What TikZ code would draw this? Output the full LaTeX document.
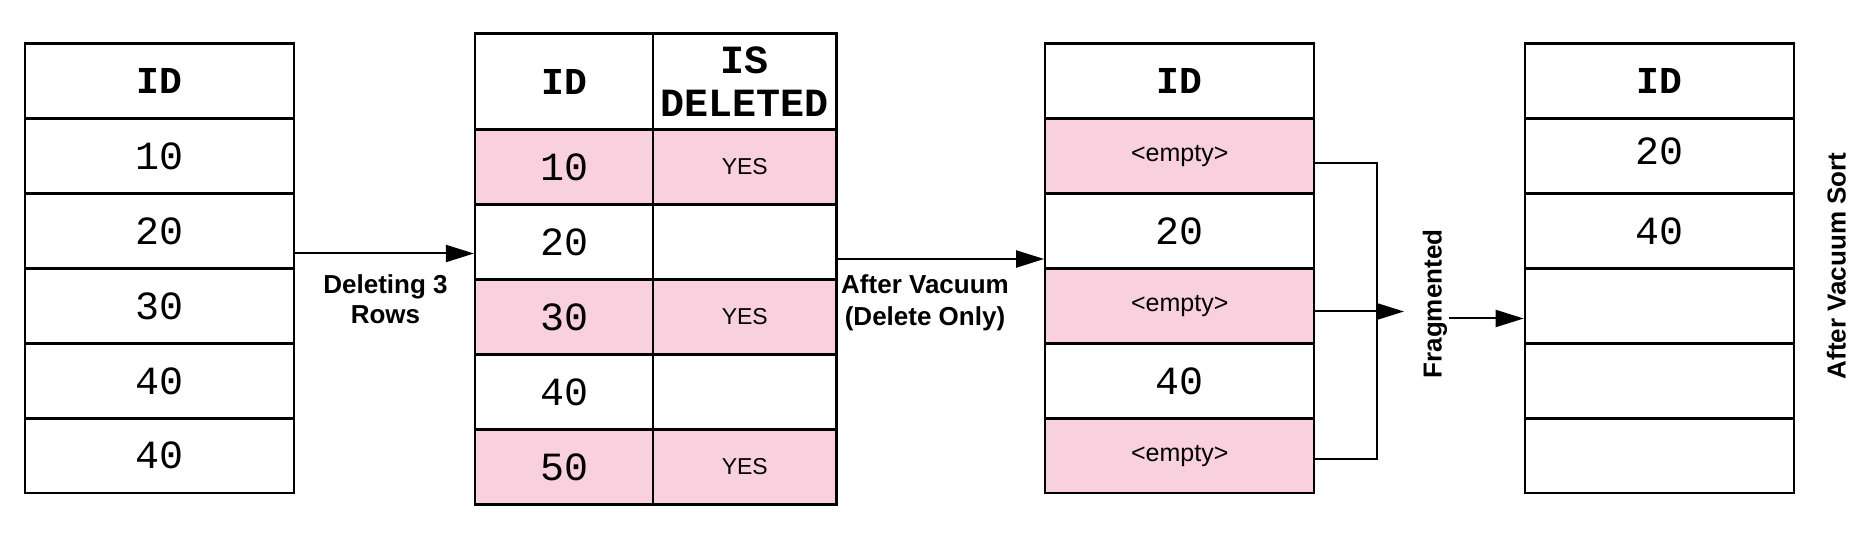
\documentclass[tikz,border=0pt]{standalone}
\usepackage{fontspec}
\setmainfont{Liberation Sans}
\setmonofont{Liberation Mono}
\usetikzlibrary{arrows.meta}
\definecolor{pinkc}{HTML}{F9D0DD}
\tikzset{
  cell/.style={draw, line width=2.2pt, inner sep=0pt, font=\ttfamily\fontsize{40}{44}\selectfont},
  hcell/.style={cell, font=\ttfamily\bfseries\fontsize{38}{43}\selectfont, align=center},
  pcell/.style={cell, fill=pinkc},
  wideA/.style={minimum width=269pt, minimum height=75pt},
  col1/.style={minimum width=178pt, minimum height=75pt},
  col2/.style={minimum width=183.5pt, minimum height=75pt},
  smalltxt/.style={font=\fontsize{23}{26}\selectfont},
  emptytxt/.style={font=\fontsize{25}{28}\selectfont},
  lbl/.style={font=\bfseries\fontsize{26}{30}\selectfont, align=center, inner sep=0pt},
  conn/.style={line width=2pt},
  arr/.style={line width=2pt, -{Triangle[length=28pt,width=17pt]}}
}
\begin{document}
\begin{tikzpicture}[x=1pt,y=-1pt]
\useasboundingbox (0,0) rectangle (1867,534);
% Table 1
\node[hcell, wideA] (t1h) at (159.5,81) {ID};
\node[cell, wideA] (t1a) at (159.5,156) {10};
\node[cell, wideA] (t1b) at (159.5,231) {20};
\node[cell, wideA] (t1c) at (159.5,306) {30};
\node[cell, wideA] (t1d) at (159.5,381) {40};
\node[cell, wideA, minimum height=74.5pt] (t1e) at (159.5,455.75) {40};
% Table 2
\node[hcell, col1, minimum height=96pt] (t2h1) at (564,81.5) {ID};
\node[hcell, col2, minimum height=96pt, font=\ttfamily\bfseries\fontsize{40}{43}\selectfont] (t2h2) at (744.75,81.5) {IS\\DELETED};
\node[pcell, col1] (t2a1) at (564,167) {10};
\node[pcell, col2, smalltxt] (t2a2) at (744.75,167) {YES};
\node[cell, col1] (t2b1) at (564,242) {20};
\node[cell, col2] (t2b2) at (744.75,242) {};
\node[pcell, col1] (t2c1) at (564,317) {30};
\node[pcell, col2, smalltxt] (t2c2) at (744.75,317) {YES};
\node[cell, col1] (t2d1) at (564,392) {40};
\node[cell, col2] (t2d2) at (744.75,392) {};
\node[pcell, col1] (t2e1) at (564,467) {50};
\node[pcell, col2, smalltxt] (t2e2) at (744.75,467) {YES};
% Table 3
\node[hcell, wideA] (t3h) at (1179.75,81) {ID};
\node[pcell, wideA, emptytxt] (t3a) at (1179.75,156) {<empty>};
\node[cell, wideA] (t3b) at (1179.75,231) {20};
\node[pcell, wideA, emptytxt] (t3c) at (1179.75,306) {<empty>};
\node[cell, wideA] (t3d) at (1179.75,381) {40};
\node[pcell, wideA, emptytxt, minimum height=74.5pt] (t3e) at (1179.75,455.75) {<empty>};
% Table 4
\node[hcell, wideA] (t4h) at (1659.25,81) {ID};
\node[cell, wideA, text height=28pt, text depth=10pt] (t4a) at (1659.25,156) {20};
\node[cell, wideA] (t4b) at (1659.25,231) {40};
\node[cell, wideA] (t4c) at (1659.25,306) {};
\node[cell, wideA] (t4d) at (1659.25,381) {};
\node[cell, wideA, minimum height=74.5pt] (t4e) at (1659.25,455.75) {};
% connector coordinates
\coordinate (a1s) at (t1b.east |- 0,253.5);
\coordinate (a1e) at (t2b1.west |- 0,253.5);
\coordinate (a2s) at (t2b2.east |- 0,259);
\coordinate (a2e) at (t3b.west |- 0,259);
\coordinate (b1) at (t3a.east |- 0,163.5);
\coordinate (b2) at (t3c.east |- 0,311.5);
\coordinate (b3) at (t3e.east |- 0,459);
\coordinate (bj1) at (1376.5,163.5);
\coordinate (bj3) at (1376.5,459);
\coordinate (bt) at (1404,311.5);
\coordinate (a3s) at (1449,318.5);
\coordinate (a3e) at (t4c.west |- 0,318.5);
% connectors
\draw[arr] (a1s) -- (a1e);
\draw[arr] (a2s) -- (a2e);
\draw[conn] (b1) -- (bj1) -- (bj3) -- (b3);
\draw[arr] (b2) -- (bt);
\draw[arr] (a3s) -- (a3e);
% labels (base anchor = baseline of last line)
\node[lbl, anchor=base] (l1) at (385.5,323.3) {Deleting 3\\Rows};
\node[lbl, anchor=base, font=\bfseries\fontsize{26}{31.7}\selectfont] (l2) at (925,325) {After Vacuum\\(Delete Only)};
\node[lbl, anchor=base, rotate=90] (l3) at (1441.7,304) {Fragmented};
\node[lbl, anchor=base, rotate=90] (l4) at (1845.7,266) {After Vacuum Sort};
\end{tikzpicture}
\end{document}
